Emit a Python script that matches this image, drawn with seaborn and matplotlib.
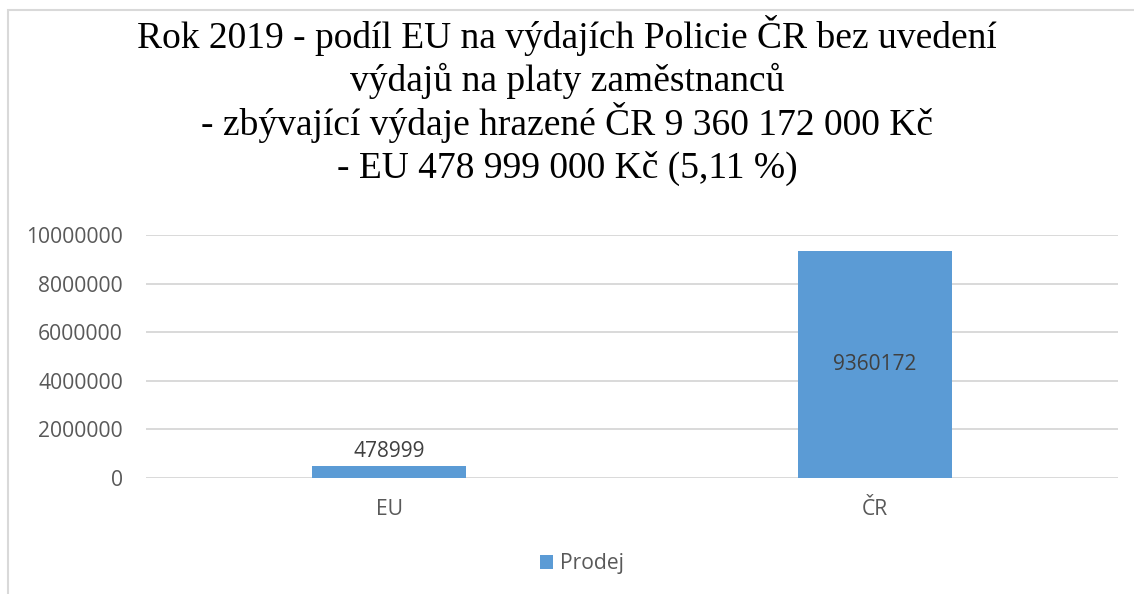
import matplotlib
matplotlib.use("Agg")
import matplotlib.pyplot as plt
import seaborn as sns
import pandas as pd
from matplotlib.patches import Rectangle

categories = ["EU", "ČR"]
values = [478999, 9360172]
series_name = "Prodej"
yticks = [0, 2000000, 4000000, 6000000, 8000000, 10000000]
title_lines = ["Rok 2019 - podíl EU na výdajích Policie ČR bez uvedení",
               "výdajů na platy zaměstnanců",
               "- zbývající výdaje hrazené ČR 9 360 172 000 Kč",
               "- EU 478 999 000 Kč (5,11 %)"]

sns.set_theme(style="white")
plt.rcParams['font.family'] = ['Open Sans', 'DejaVu Sans']

W, H = 1134, 594
fig = plt.figure(figsize=(W / 100, H / 100), dpi=100)
ax = fig.add_axes([146 / W, 116 / H, 972 / W, 243 / H])

df = pd.DataFrame({"cat": categories, "val": values})
sns.barplot(data=df, x="cat", y="val", color="#5B9BD5", saturation=1,
            width=0.315, label=series_name, ax=ax, linewidth=0)

ax.set_xlim(-0.5, 1.5)
ax.set_ylim(0, 10000000)
ax.set_yticks(yticks)
ax.set_yticklabels([str(v) for v in yticks])
ax.set_xlabel("")
ax.set_ylabel("")
for s in ax.spines.values():
    s.set_visible(False)
ax.yaxis.grid(True, color="#d9d9d9", linewidth=1.4)
ax.set_axisbelow(True)
ax.tick_params(axis="y", length=0, pad=16.5, labelsize=15.2, labelcolor="#595959")
ax.tick_params(axis="x", length=0, pad=15, labelsize=15.2, labelcolor="#595959")

cont = ax.containers[0]
ax.bar_label(cont, labels=[str(values[0]), ""], label_type="edge", padding=3,
             fontsize=15, color="#404040")
ax.bar_label(cont, labels=["", str(values[1])], label_type="center",
             fontsize=15, color="#404040")

leg = ax.legend(loc="center", bbox_to_anchor=(582 / W, 30 / H), bbox_transform=fig.transFigure,
                frameon=False, fontsize=15.2, handlelength=0.62, handleheight=0.62,
                handletextpad=0.3)
for t in leg.get_texts():
    t.set_color("#595959")

baselines_px = [48, 91, 135, 178]
for line, b in zip(title_lines, baselines_px):
    fig.text(0.5, 1 - b / H, line, ha="center", va="baseline", fontsize=27,
             family="Liberation Serif", color="black")

fig.patches.append(Rectangle((8 / W, -0.1), 2, 1 - 10 / H + 0.1, transform=fig.transFigure,
                             fill=False, edgecolor="#d9d9d9", linewidth=1.5))

fig.savefig("out.png", dpi=100)
